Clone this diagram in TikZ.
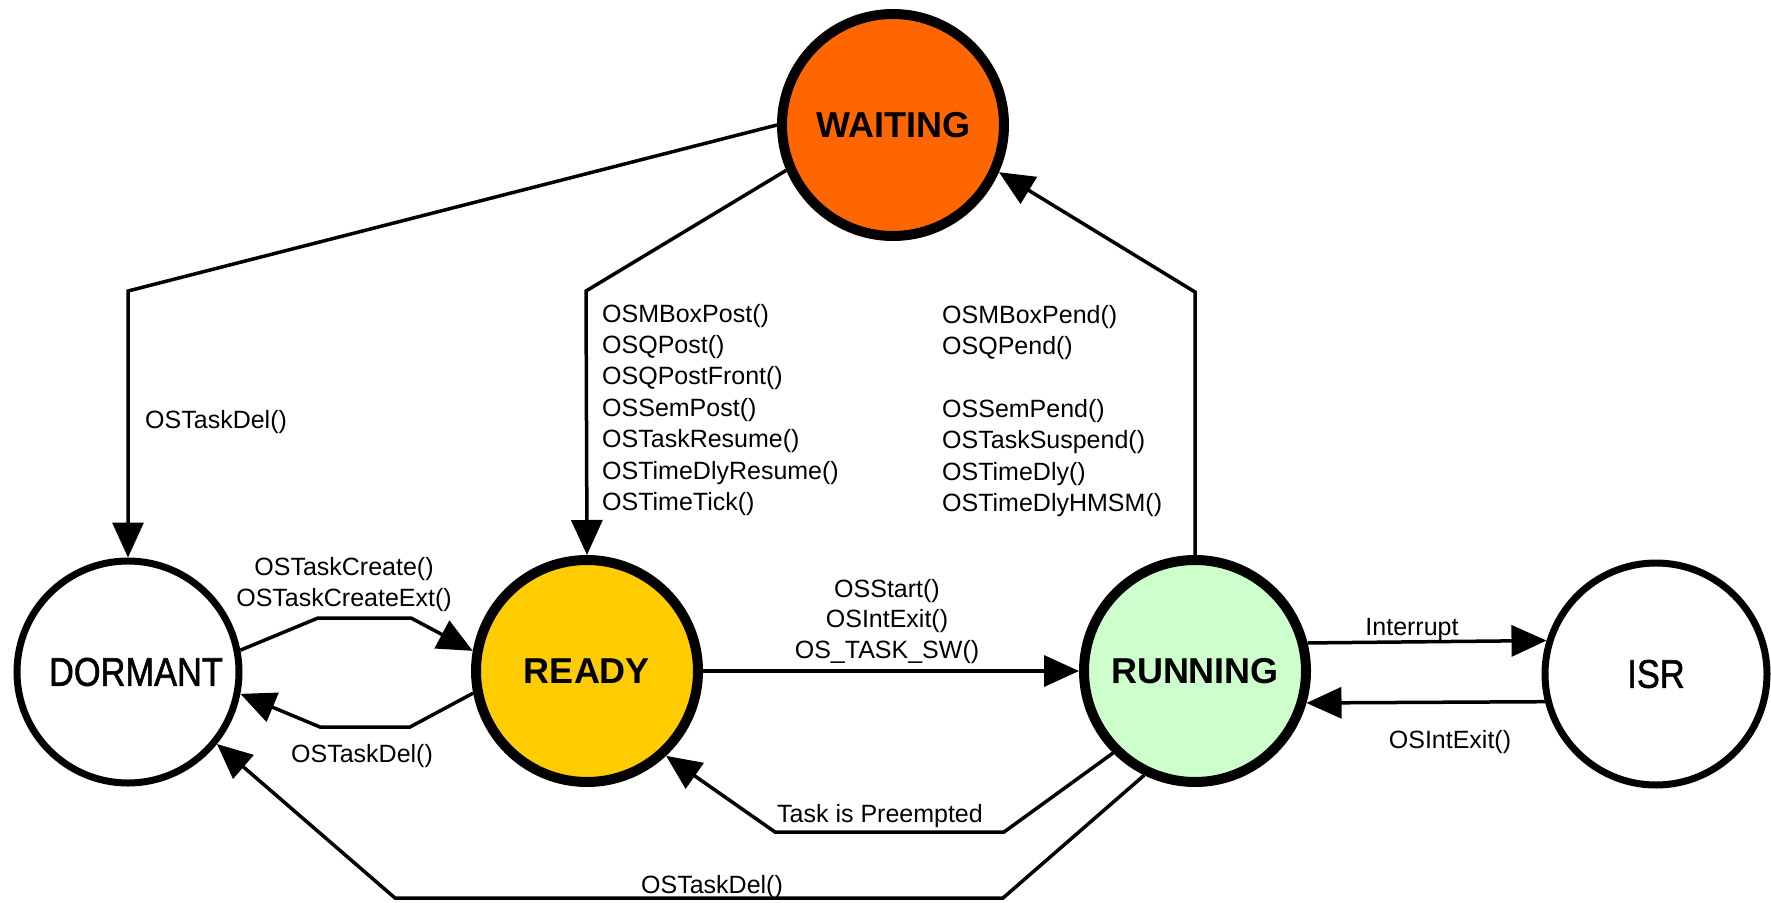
\documentclass[tikz,border=0pt]{standalone}
\usepackage{fontspec}
\usepackage{graphicx}
\setmainfont{Liberation Sans}
\newfontfamily\medfont[FakeBold=1.5]{Liberation Sans}
\usetikzlibrary{arrows.meta}
\definecolor{waitc}{HTML}{FF6600}
\definecolor{readyc}{HTML}{FFCC00}
\definecolor{runc}{HTML}{CCFFCC}
\begin{document}
\begin{tikzpicture}[x=1pt,y=-1pt,
  state/.style={circle,draw=black,minimum size=222pt,inner sep=0pt},
  hot/.style={state,line width=10pt,font=\fontsize{36}{40}\selectfont\bfseries},
  cold/.style={state,line width=7pt,font=\medfont\fontsize{40}{44}\selectfont},
  arr/.style={line width=3.5pt,line join=miter,-{Triangle[length=35pt,width=31pt]}},
  lbl/.style={inner sep=0pt,font=\fontsize{25}{31.4}\selectfont}]
\useasboundingbox (0,0) rectangle (1771,902);
\fill[white] (0,0) rectangle (1771,902);

% states
\node[hot,fill=waitc] (W) at (893,125) {WAITING};
\node[cold,fill=white] (D) at (128,672) {\hspace*{16pt}\scalebox{0.86}[1]{DORMANT}};
\node[hot,fill=readyc] (R) at (587,671) {READY};
\node[hot,fill=runc] (U) at (1195,671) {RUNNING};
\node[cold,fill=white] (I) at (1656,674) {\scalebox{0.86}[1]{ISR}};

% corner points
\coordinate (c1) at (128,291);
\coordinate (c2) at (586,291);
\coordinate (c3) at (1195,292);
\coordinate (c4) at (318,618);
\coordinate (c5) at (411,618);
\coordinate (c6) at (410,727);
\coordinate (c7) at (320,727);
\coordinate (c8) at (1004,832);
\coordinate (c9) at (775,832);
\coordinate (c10) at (1003,898);
\coordinate (c11) at (395,898);

% connectors
\draw[arr] (W.180) -- (c1) -- (D.north);
\draw[arr] (W.203.7) -- (c2) -- (R.north);
\draw[arr] (U.north) -- (c3) -- (W.336.8);
\draw[arr] (D.11.5) -- (c4) -- (c5) -- (R.170.3);
\draw[arr] (R.191.6) -- (c6) -- (c7) -- (D.349.6);
\draw[arr] (R.east) -- (U.west);
\draw[arr] (U.14.5) -- (I.163.7);
\draw[arr] (I.194.7) -- (U.344);
\draw[arr] (U.225.3) -- (c8) -- (c9) -- (R.313);
\draw[arr] (U.244.5) -- (c10) -- (c11) -- (D.321.4);

% labels
\node[lbl,anchor=base west] (l1) at (145,428) {OSTaskDel()};
\node[lbl,anchor=base west] (l2) at (602,322) {\begin{tabular}[t]{@{}l@{}}OSMBoxPost()\\OSQPost()\\OSQPostFront()\\OSSemPost()\\OSTaskResume()\\OSTimeDlyResume()\\OSTimeTick()\end{tabular}};
\node[lbl,anchor=base west] (l3) at (942,323) {\begin{tabular}[t]{@{}l@{}}OSMBoxPend()\\OSQPend()\\ \\OSSemPend()\\OSTaskSuspend()\\OSTimeDly()\\OSTimeDlyHMSM()\end{tabular}};
\node[lbl,anchor=base] (l4) at (344,575) {\begin{tabular}[t]{@{}c@{}}OSTaskCreate()\\OSTaskCreateExt()\end{tabular}};
\node[lbl,anchor=base] (l5) at (362,762) {OSTaskDel()};
\node[lbl,anchor=base,font=\fontsize{25}{30.5}\selectfont] (l6) at (887,597) {\begin{tabular}[t]{@{}c@{}}OSStart()\\OSIntExit()\\OS\_TASK\_SW()\end{tabular}};
\node[lbl,anchor=base] (l7) at (1412,635) {Interrupt};
\node[lbl,anchor=base] (l8) at (1450,748) {OSIntExit()};
\node[lbl,anchor=base] (l9) at (880,822) {Task is Preempted};
\node[lbl,anchor=base] (l10) at (712,893) {OSTaskDel()};
\end{tikzpicture}
\end{document}
